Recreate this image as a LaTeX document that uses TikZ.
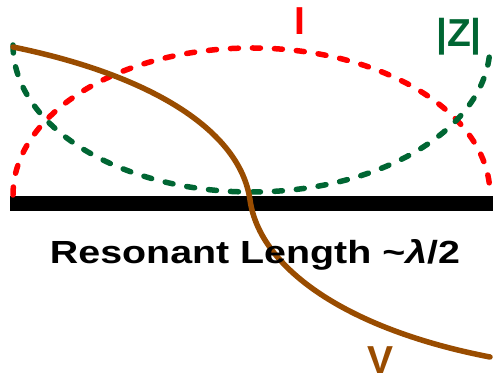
\documentclass[tikz,border=0pt]{standalone}
\usepackage{fontspec}
\setmainfont{Liberation Sans}
\usepackage{xcolor}
\definecolor{ireds}{RGB}{255,0,0}
\definecolor{zgreen}{RGB}{0,102,51}
\definecolor{vbrown}{RGB}{153,76,0}

\begin{document}
\begin{tikzpicture}[x=1pt, y=1pt,
      wave/.style={line width=5.5pt, line cap=round, dash pattern=on 8pt off 14pt},
      lbl/.style={font=\fontsize{39}{39}\selectfont\bfseries, inner sep=0pt, anchor=base}]
    \useasboundingbox (0,0) rectangle (494,382);
    % antenna element
    \fill[black] (10,171) rectangle (493,186);
    % current and impedance
    \draw[wave, ireds] (13,187) arc[start angle=180, end angle=0, x radius=238.5, y radius=147];
    \draw[wave, zgreen] (13,337) arc[start angle=180, end angle=360, x radius=238.5, y radius=147];
    % voltage
    \draw[vbrown, line width=5.5pt, line cap=round] (13,335) .. controls (150,307) and (240,252) .. (250,182)
      .. controls (260,112) and (350,52) .. (490,25);
    \node[lbl, ireds] (labI) at (300,347) {I};
    \node[lbl, zgreen] (labZ) at (459,335) {|Z|};
    \node[lbl, vbrown] (labV) at (380,9) {V};
    \node[font=\fontsize{32}{32}\selectfont\bfseries, inner sep=0pt, anchor=base, xscale=1.23] (title) at (255,118)
      {Resonant Length \textasciitilde\textit{λ}/2};
  \end{tikzpicture}
\end{document}
